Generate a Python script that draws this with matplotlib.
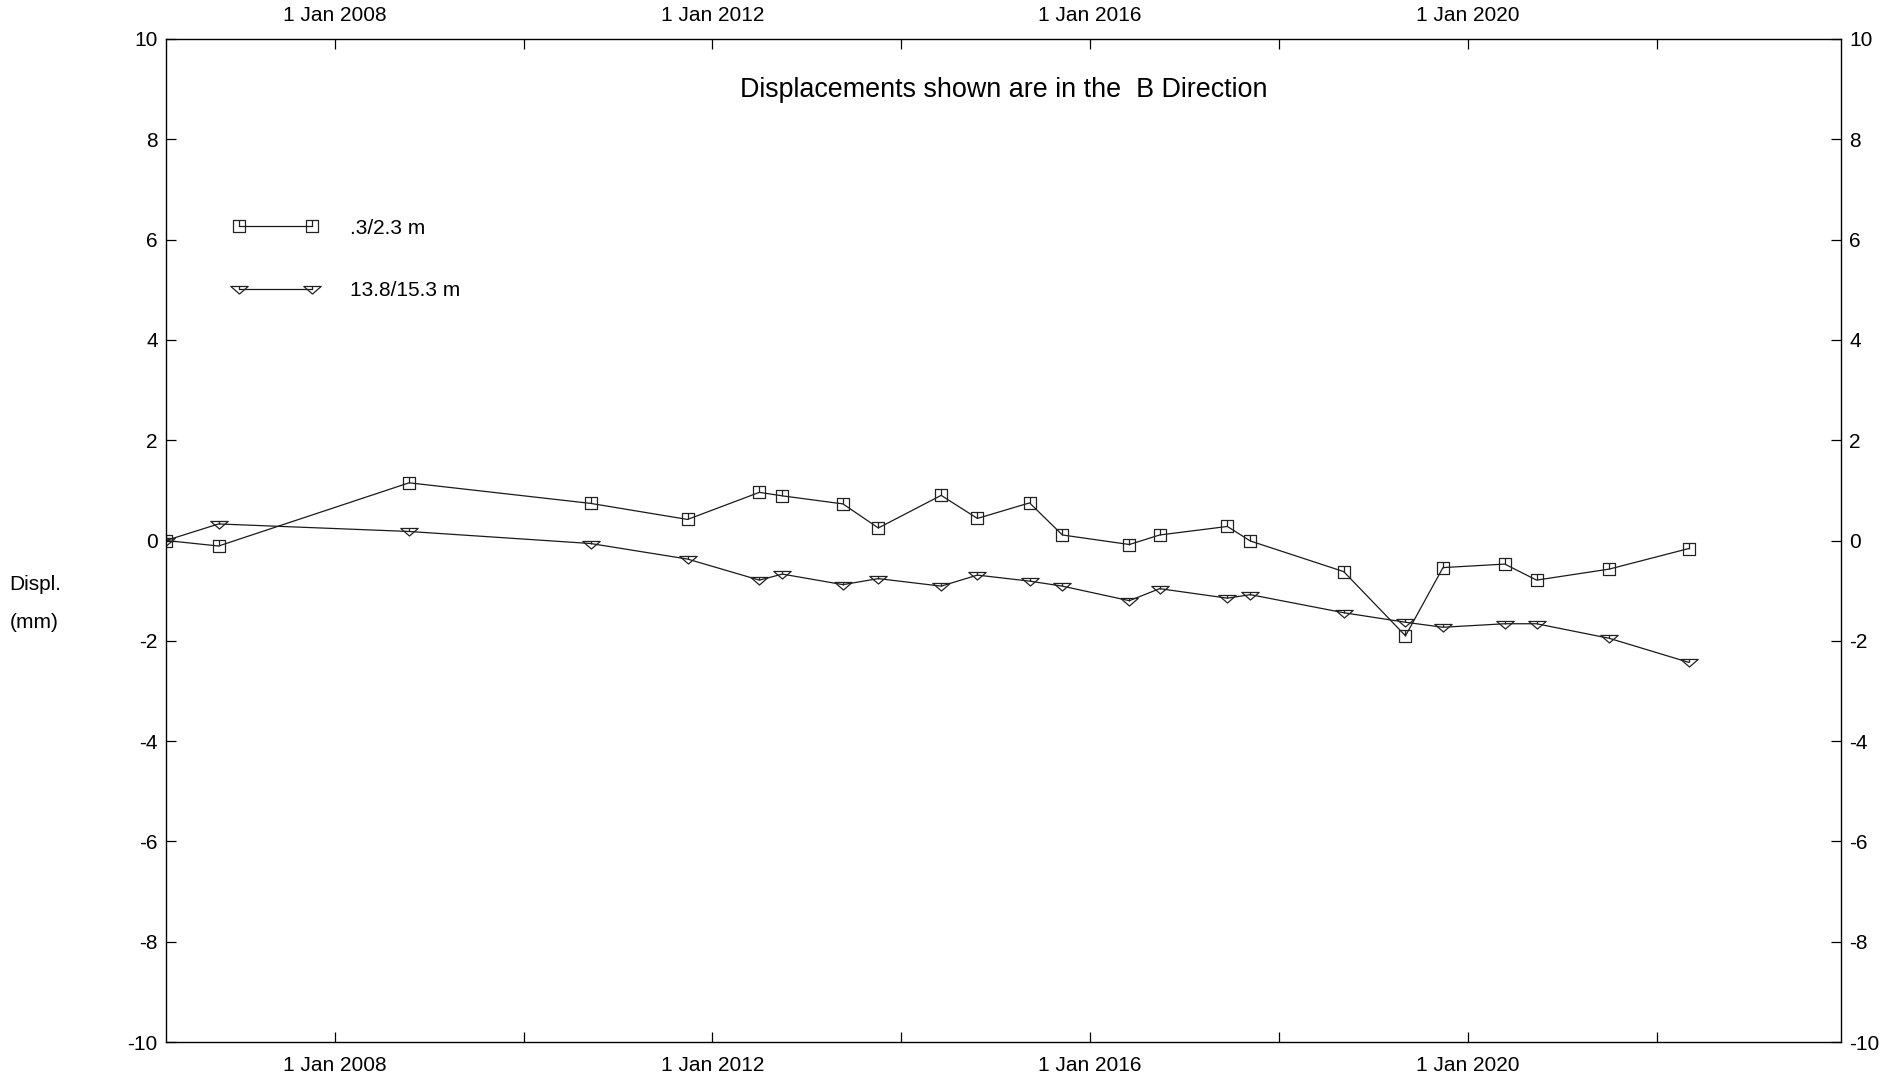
"""
Displacement vs time plot, B direction
"""

import datetime as dt

import matplotlib
matplotlib.use("Agg")
import matplotlib.pyplot as plt
import matplotlib.dates as mdates
from matplotlib.path import Path
from matplotlib.ticker import FuncFormatter, MultipleLocator

plt.rcParams["font.family"] = ["Liberation Sans", "DejaVu Sans"]
plt.rcParams["axes.unicode_minus"] = False

# survey dates (shared by both anchors)
dates = [
    "2006-03-20", "2006-10-09", "2008-10-15", "2010-09-17", "2011-09-27",
    "2012-07-01", "2012-09-28", "2013-05-20", "2013-10-04", "2014-06-04",
    "2014-10-22", "2015-05-12", "2015-09-16", "2016-06-01", "2016-09-26",
    "2017-06-15", "2017-09-12", "2018-09-08", "2019-05-05", "2019-09-27",
    "2020-05-23", "2020-09-23", "2021-07-01", "2022-05-05",
]

# displacement (mm)
disp_shallow = [
    0.0, -0.11, 1.15, 0.74, 0.42, 0.96, 0.89, 0.73, 0.25, 0.90,
    0.44, 0.75, 0.11, -0.08, 0.11, 0.28, -0.01, -0.62, -1.90, -0.54,
    -0.47, -0.79, -0.57, -0.16,
]
disp_deep = [
    0.0, 0.33, 0.18, -0.06, -0.37, -0.79, -0.67, -0.88, -0.76, -0.91,
    -0.69, -0.81, -0.91, -1.20, -0.96, -1.15, -1.08, -1.44, -1.63, -1.73,
    -1.66, -1.66, -1.95, -2.43,
]
labels = [".3/2.3 m", "13.8/15.3 m"]

x_start = dt.datetime(2006, 3, 20)
x_end = dt.datetime(2023, 12, 15)

# markers with a small tick from the edge to the point
square_path = Path(
    [(-1, -1), (1, -1), (1, 1), (-1, 1), (-1, -1), (0, 1), (0, 0)],
    [Path.MOVETO, Path.LINETO, Path.LINETO, Path.LINETO, Path.CLOSEPOLY,
     Path.MOVETO, Path.LINETO],
)
tri_path = Path(
    [(-1.15, 0.4), (1.15, 0.4), (0, -0.6), (-1.15, 0.4), (0, 0.4), (0, 0)],
    [Path.MOVETO, Path.LINETO, Path.LINETO, Path.CLOSEPOLY,
     Path.MOVETO, Path.LINETO],
)

x = [dt.datetime.strptime(d, "%Y-%m-%d") for d in dates]

fig = plt.figure(figsize=(19.02, 10.86), dpi=100)
ax = fig.add_axes([0.0873, 0.0405, 0.8807, 0.9236])

line_kw = dict(color="#1a1a1a", linewidth=0.9, markerfacecolor="none",
               markeredgecolor="#222222", markeredgewidth=0.9)
ax.plot(x, disp_shallow, marker=square_path, markersize=9,
        label=labels[0], **line_kw)
ax.plot(x, disp_deep, marker=tri_path, markersize=12.5,
        label=labels[1], **line_kw)

ax.set_xlim(x_start, x_end)
ax.set_ylim(-10, 10)

# axes, ticks on all sides
ax.yaxis.set_major_locator(MultipleLocator(2))
ax.xaxis.set_major_locator(mdates.YearLocator(2))


def date_label(val, pos):
    d = mdates.num2date(val)
    if d.year % 4 == 0:
        return f"{d.day} {d.strftime('%b %Y')}"
    return ""


ax.xaxis.set_major_formatter(FuncFormatter(date_label))
ax.tick_params(axis="both", direction="in", length=7, width=0.9,
               top=True, right=True, labeltop=True, labelright=True,
               labelsize=15)
ax.tick_params(axis="x", pad=10)
ax.tick_params(axis="y", pad=6)
for spine in ax.spines.values():
    spine.set_linewidth(1.0)

ax.text(0.5, 0.949, "Displacements shown are in the  B Direction",
        transform=ax.transAxes, ha="center", va="center", fontsize=19.4)

ax.legend(loc="upper left", bbox_to_anchor=(0.0399, 0.821), frameon=False,
          numpoints=2, handlelength=4.1, handletextpad=1.5, labelspacing=2.1,
          borderpad=0, borderaxespad=0, fontsize=15)

fig.text(0.005, 0.462, "Displ.", fontsize=15, ha="left", va="center")
fig.text(0.005, 0.427, "(mm)", fontsize=15, ha="left", va="center")

fig.savefig("out.png", dpi=100)
